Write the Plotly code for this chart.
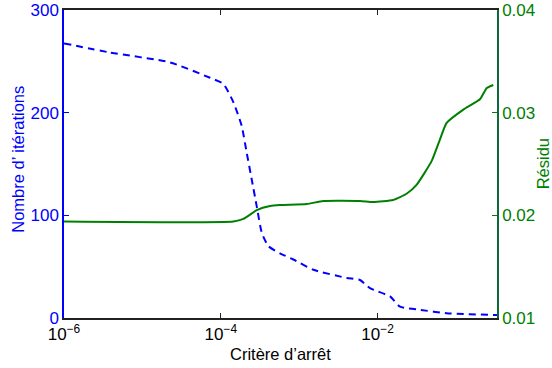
import plotly.graph_objects as go

# Blue dashed curve: number of iterations vs stopping criterion
crit_iter = [1e-6, 3.86e-6, 2.25e-5, 7.28e-5, 1.08e-4, 1.45e-4, 1.85e-4, 2.14e-4,
             2.48e-4, 2.87e-4, 3.33e-4, 4.04e-4, 5.69e-4, 8.41e-4, 1.51e-3, 4.04e-3,
             5.97e-3, 8.0e-3, 1.44e-2, 1.93e-2, 3.48e-2, 7.6e-2, 0.299, 0.333]
iterations = [267.5, 258.6, 249, 234, 228, 210, 187, 161,
              135, 109, 83, 70, 63, 57, 47, 39,
              37, 29, 21, 11, 8, 4.6, 3, 3]

# Green solid curve: residual vs stopping criterion
crit_res = [1e-6, 1.45e-4, 1.94e-4, 2.87e-4, 4.25e-4, 5.69e-4, 1.25e-3, 2.03e-3,
            5.97e-3, 8.83e-3, 1.58e-2, 2.34e-2, 3.16e-2, 4.9e-2, 6.25e-2, 7.6e-2,
            0.124, 0.202, 0.247, 0.299]
residual = [0.0194, 0.0194, 0.01965, 0.0205, 0.0209, 0.0210, 0.0211, 0.0214,
            0.0214, 0.0213, 0.0215, 0.0221, 0.0230, 0.0253, 0.0274, 0.0290,
            0.0303, 0.0313, 0.0324, 0.0327]

x_tickvals = [1e-6, 1e-4, 1e-2]
x_ticktext = ["10<sup>−6</sup>", "10<sup>−4</sup>", "10<sup>−2</sup>"]
y_tickvals = [0, 100, 200, 300]
y2_tickvals = [0.01, 0.02, 0.03, 0.04]
y2_ticktext = ["0.01", "0.02", "0.03", "0.04"]

x_title = "Critère d’arrêt"
y_title = "Nombre d’ itérations"
y2_title = "Résidu"

BLUE = "#0000ff"
GREEN = "#008000"
FONT = "Liberation Sans, Arial, sans-serif"

fig = go.Figure()
fig.add_trace(go.Scatter(x=crit_iter, y=iterations, mode="lines",
                         line=dict(color=BLUE, width=2, dash="7px,5px", shape="spline", smoothing=0.5),
                         yaxis="y", showlegend=False))
fig.add_trace(go.Scatter(x=crit_res, y=residual, mode="lines",
                         line=dict(color=GREEN, width=2, shape="spline", smoothing=0.5),
                         yaxis="y2", showlegend=False))

fig.update_layout(
    width=552, height=368,
    margin=dict(l=64, r=55, t=10, b=50, autoexpand=False),
    paper_bgcolor="white", plot_bgcolor="white",
    font=dict(family=FONT, size=17, color="black"),
    xaxis=dict(type="log", range=[-6, -0.477], tickvals=x_tickvals, ticktext=x_ticktext,
               showgrid=False, zeroline=False, showline=True, linecolor="#222222", linewidth=1.5,
               mirror="ticks", ticks="inside", ticklen=5, tickcolor="#222222", automargin=False,
               tickfont=dict(size=17, color="black")),
    yaxis=dict(range=[0, 300], tickvals=y_tickvals, showgrid=False, zeroline=False,
               showline=True, linecolor=BLUE, linewidth=1.5, ticks="inside", ticklen=5,
               tickcolor=BLUE, tickfont=dict(size=17, color=BLUE), automargin=False),
    yaxis2=dict(range=[0.01, 0.04], tickvals=y2_tickvals, ticktext=y2_ticktext,
                overlaying="y", side="right", showgrid=False, zeroline=False,
                showline=True, linecolor="#0a6a3a", linewidth=1.5, ticks="inside", ticklen=5,
                tickcolor=GREEN, tickfont=dict(size=17, color=GREEN), automargin=False),
    annotations=[
        dict(text=x_title, xref="paper", yref="paper", x=0.5, y=-0.117, yanchor="middle",
             showarrow=False, font=dict(size=16.5, color="black")),
        dict(text=y_title, xref="paper", yref="paper", x=-0.107, y=0.516, xanchor="center",
             yanchor="middle", textangle=-90, showarrow=False, font=dict(size=16.5, color=BLUE)),
        dict(text=y2_title, xref="paper", yref="paper", x=1.107, y=0.5, xanchor="center",
             yanchor="middle", textangle=-90, showarrow=False, font=dict(size=16.5, color=GREEN)),
    ],
)

# remove the page's default body margin so the figure sits at the window origin
fig.write_html("out.html", config={"displayModeBar": False},
               post_script="document.body.style.margin='0';document.body.style.overflow='hidden';")
